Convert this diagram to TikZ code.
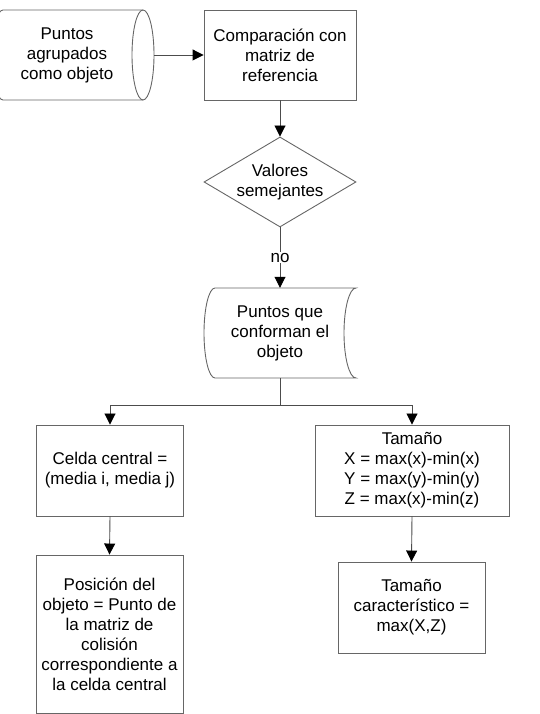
\documentclass[tikz,border=0pt]{standalone}
\usepackage{fontspec}
\setmainfont{Liberation Sans}
\usetikzlibrary{arrows.meta,shapes.geometric}

\begin{document}
\begin{tikzpicture}[x=1pt, y=1pt,
        font=\fontsize{17}{20}\selectfont,
        caja/.style={draw=black!60, line width=0.9pt, align=center, inner sep=2pt},
        forma/.style={align=center, inner sep=0pt, minimum width=152pt, minimum height=90pt},
        flecha/.style={draw=black!70, line width=0.9pt, -{Triangle[length=11pt, width=11pt, black]}},
        linea/.style={draw=black!70, line width=0.9pt}]
        \clip (0,0) rectangle (540,714);

        % datos de entrada y comparacion
        \node[align=center] (dato) at (67,659) {Puntos\\agrupados\\como objeto};
        \draw[black!60, line width=0.9pt] (143,704) -- (3,704)
            arc[start angle=90, end angle=270, x radius=11, y radius=45] -- (143,614);
        \draw[black!60, line width=0.9pt] (143,659) ellipse[x radius=11, y radius=45];
        \coordinate (lente) at (154,659);
        \node[caja, minimum width=152pt, minimum height=90pt] (comp) at (280,659)
            {Comparaci\'on con\\matriz de\\referencia};
        \node[forma, shape=diamond, aspect=1.69, draw=black!60, line width=0.9pt] (valores) at (280,532)
            {Valores\\semejantes};

        % puntos almacenados
        \node[forma] (puntos) at (280,381) {Puntos que\\conforman el\\objeto};
        \draw[black!60, line width=0.9pt] (215,426) -- (356,426)
            arc[start angle=90, end angle=270, x radius=12, y radius=45] -- (215,336)
            arc[start angle=270, end angle=90, x radius=11, y radius=45] -- cycle;

        % resultados
        \node[caja, minimum width=147pt, minimum height=91pt] (celda) at (110,243.5)
            {Celda central =\\(media i, media j)};
        \node[caja, minimum width=194pt, minimum height=91pt] (tam) at (412,243.5)
            {Tama\~no\\X = max(x)-min(x)\\Y = max(y)-min(y)\\Z = max(x)-min(z)};
        \node[caja, minimum width=147pt, minimum height=158pt] (pos) at (109.5,80)
            {Posici\'on del\\objeto = Punto de\\la matriz de\\colisi\'on\\correspondiente a\\la celda central};
        \node[caja, minimum width=147pt, minimum height=91pt] (carac) at (411.5,106.5)
            {Tama\~no\\caracter\'istico =\\max(X,Z)};

        \draw[flecha] (lente) -- (comp.west);
        \draw[flecha] (comp.south) -- (valores.north);
        \draw[flecha] (valores.south) -- node[fill=white, inner sep=1pt] {no} (puntos.north);
        \draw[linea] (puntos.south) -- ++(0,-27) coordinate (rama);
        \draw[flecha] (rama) -| (celda.north);
        \draw[flecha] (rama) -| (tam.north);
        \draw[flecha] (celda.south) -- (pos.north);
        \draw[flecha] (tam.south) -- (carac.north);
\end{tikzpicture}
\end{document}
